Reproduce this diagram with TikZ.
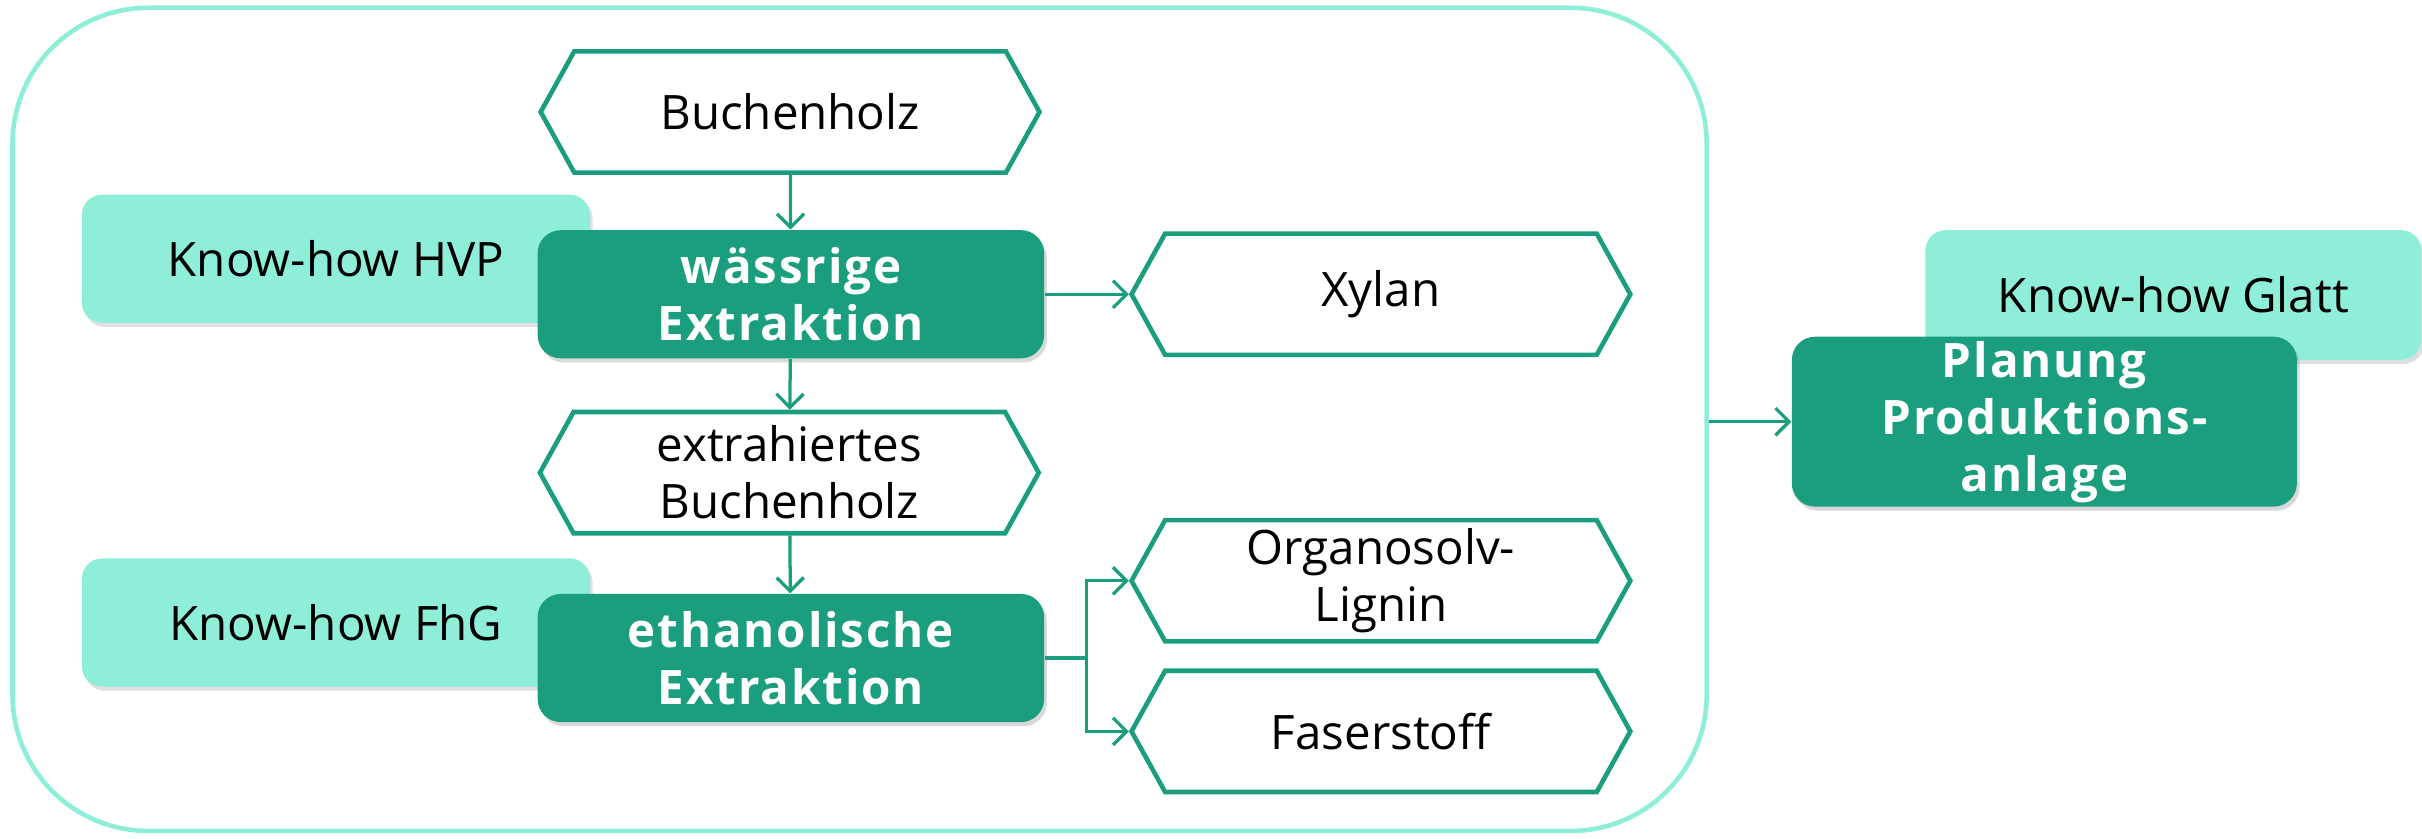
\documentclass[tikz,border=0pt]{standalone}
\usepackage{fontspec}
\setmainfont{Open Sans}
\usetikzlibrary{arrows.meta, shapes.symbols, shadows}
\definecolor{fhgreen}{HTML}{1A9E7E}
\definecolor{mint}{HTML}{8EEED8}
\tikzset{
  product/.style={signal, signal to=west and east, signal pointer angle=122,
    draw=fhgreen, line width=1.7pt, fill=white, inner sep=0pt,
    minimum width=6.46cm, minimum height=1.57cm, align=center,
    font=\fontsize{17.5}{21}\selectfont},
  process/.style={rectangle, rounded corners=0.3cm, fill=fhgreen, text=white,
    minimum width=6.56cm, minimum height=1.66cm, align=center, inner sep=0pt,
    font=\fontsize{17.5}{21}\selectfont\bfseries\addfontfeatures{LetterSpace=4},
    drop shadow={shadow xshift=1pt, shadow yshift=-1.5pt, opacity=0.3}},
  knowhow/.style={rectangle, rounded corners=0.26cm, fill=mint,
    minimum width=6.58cm, minimum height=1.66cm, align=center, inner sep=0pt,
    font=\fontsize{17.5}{21}\selectfont,
    drop shadow={shadow xshift=1pt, shadow yshift=-1.5pt, opacity=0.25}},
  flow/.style={draw=fhgreen, line width=1.2pt, -{Straight Barb[length=5pt,width=10pt]}}
}
\begin{document}
\begin{tikzpicture}[x=0.02cm,y=-0.02cm]
\useasboundingbox (0,0) rectangle (1568,543);
% Outer frame round the extraction steps
\node[draw=mint, line width=1.7pt, rounded corners=1.76cm, minimum width=21.94cm,
  minimum height=10.66cm] (frame) at (556.5,271.5) {};
% Know-how boxes lie behind the process boxes
\node[knowhow] (hvp) at (217.5,167.5) {Know-how HVP};
\node[knowhow] (fhg) at (217.5,403) {Know-how FhG};
\node[knowhow, minimum width=6.42cm, minimum height=1.68cm] (glatt) at (1407,191) {Know-how Glatt};
% Process steps
\node[process] (wass) at (512,190.5) {wässrige\\Extraktion};
\node[process] (eth) at (512,426) {ethanolische\\Extraktion};
\node[process, minimum width=6.54cm, minimum height=2.2cm] (plan) at (1323.5,273) {Planung\\Produktions-\\anlage};
% Raw materials and products
\node[product] (buche) at (511.5,72.5) {Buchenholz};
\node[product] (extr) at (511,306) {extrahiertes\\Buchenholz};
\node[product] (xylan) at (894,190.5) {Xylan};
\node[product] (org) at (894,376) {Organosolv-\\Lignin};
\node[product] (fas) at (894,473.5) {Faserstoff};
% Connectors
\draw[flow] (buche) -- (wass);
\draw[flow] (wass) -- (extr);
\draw[flow] (extr) -- (eth);
\draw[flow] (wass.east) -- (xylan.west);
\draw[draw=fhgreen, line width=1.2pt] (eth.east) -- ++(27,0) coordinate (split);
\draw[flow] (split) |- (org.west);
\draw[flow] (split) |- (fas.west);
\draw[flow] (frame.east |- plan.west) -- (plan.west);
\end{tikzpicture}
\end{document}
